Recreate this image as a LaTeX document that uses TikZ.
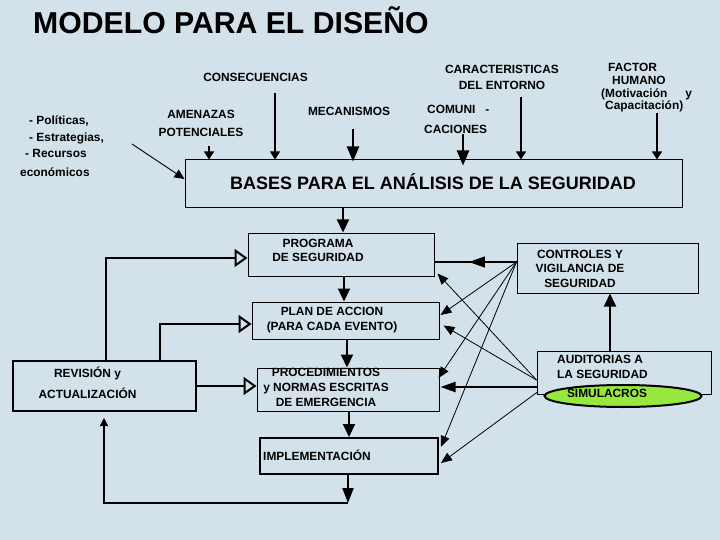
\documentclass[tikz,border=0pt]{standalone}
\usepackage{fontspec}
\setmainfont{Liberation Sans}
\usetikzlibrary{arrows.meta,calc,decorations.markings,shapes.geometric}
\definecolor{bgc}{RGB}{211,226,234}
\definecolor{simg}{RGB}{150,232,60}
\begin{document}
\begin{tikzpicture}[x=1pt,y=-1pt,
  lbl/.style={font=\bfseries\fontsize{11.9}{#1}\selectfont, inner sep=0pt, align=center},
  lbl/.default=14,
  box/.style={draw, line width=1pt, inner sep=0pt},
  thickbox/.style={draw, line width=2pt, inner sep=0pt},
  inarrow/.style={line width=1.1pt, -{Triangle[length=8pt,width=10pt]}},
  bigin/.style={line width=2pt, -{Triangle[length=15pt,width=12pt]}},
  flow/.style={line width=2pt, -{Triangle[length=13pt,width=12pt]}},
  fb/.style={line width=2pt, -{Triangle[open,length=13pt,width=18pt]}},
  link/.style={line width=0.8pt, -{Triangle[length=11pt,width=9pt]}},
  thicklink/.style={line width=2pt, -{Triangle[length=15pt,width=10pt]}},
  loopline/.style={line width=1.3pt, -{Triangle[length=8pt,width=8pt]}}
]
\useasboundingbox (0,0) rectangle (720,540);
\fill[bgc] (0,0) rectangle (720,540);

% boxes
\node[box, minimum width=497pt, minimum height=48pt] (bases) at (433.5,184) {};
\node[box, minimum width=186pt, minimum height=43pt] (prog) at (341,254.5) {};
\node[box, minimum width=187pt, minimum height=37pt] (plan) at (345.5,320.5) {};
\node[box, minimum width=182pt, minimum height=43pt] (proc) at (348,389.5) {};
\node[thickbox, minimum width=178pt, minimum height=36pt] (impl) at (349,456) {};
\node[thickbox, minimum width=183pt, minimum height=50pt] (rev) at (104.5,386) {};
\node[box, minimum width=181pt, minimum height=50pt] (ctrl) at (607.5,268) {};
\node[box, minimum width=174pt, minimum height=43pt] (aud) at (624,372.5) {};
\node[ellipse, draw, line width=2pt, fill=simg, minimum width=157pt, minimum height=22pt, inner sep=0pt] (sim) at (623,396) {};

% texts
\node[anchor=base west, font=\bfseries\fontsize{30.2}{32}\selectfont, inner sep=0pt] (title) at (33,33.3) {MODELO PARA EL DISEÑO};
\node[anchor=base, font=\bfseries\fontsize{18}{20}\selectfont, inner sep=0pt] (basestxt) at (433,190) {BASES PARA EL ANÁLISIS DE LA SEGURIDAD};
\node[lbl, anchor=base] (cons) at (255.5,82) {CONSECUENCIAS};
\node[lbl=17.7] (amen) at (201,123.4) {AMENAZAS\\POTENCIALES};
\node[lbl, anchor=base] (mec) at (349,116) {MECANISMOS};
\node[lbl=20, align=left, anchor=west] (com) at (424,119.2) {\hspace*{3pt}COMUNI\hspace{10pt}-\\CACIONES};
\node[lbl=16] (car) at (502,77.5) {CARACTERISTICAS\\DEL ENTORNO};
\node[lbl=12.6, align=left, anchor=west] (fac) at (601,87.9) {\hspace*{7pt}FACTOR\\\hspace*{11pt}HUMANO\\(Motivación\hspace{18pt}y\\\hspace*{4pt}Capacitación)};
\node[lbl, anchor=base west] (pol1) at (29,125) {- Políticas,};
\node[lbl, anchor=base west] (pol2) at (29,141.7) {- Estrategias,};
\node[lbl, anchor=base west] (pol3) at (25,158) {- Recursos};
\node[lbl, anchor=base west] (pol4) at (20,177) {económicos};

\node[lbl] (progtxt) at (318,250.5) {PROGRAMA\\DE SEGURIDAD};
\node[lbl=15] (plantxt) at (332,319.8) {PLAN DE ACCION\\(PARA CADA EVENTO)};
\node[lbl=15] (proctxt) at (326,387.2) {PROCEDIMIENTOS\\y NORMAS ESCRITAS\\DE EMERGENCIA};
\node[lbl, anchor=base west] (impltxt) at (263,460) {IMPLEMENTACIÓN};
\node[lbl=20.6] (revtxt) at (87.5,382.5) {REVISIÓN y\\ACTUALIZACIÓN};
\node[lbl=14.5] (ctrltxt) at (580,268.8) {CONTROLES Y\\VIGILANCIA DE\\SEGURIDAD};
\node[lbl=14.7, align=left, anchor=west] (audtxt) at (557,366.7) {AUDITORIAS A\\LA SEGURIDAD};
\node[lbl, anchor=base] (simtxt) at (607,397.7) {SIMULACROS};

% input arrows
\coordinate (amenS) at (209,146.5);
\coordinate (consS) at (275,93);
\coordinate (mecS) at (353,129);
\coordinate (comS) at (463,134);
\coordinate (carS) at (521,97);
\coordinate (facS) at (657,113);
\coordinate (polS) at (132,144);
\draw[inarrow] (amenS) -- (amenS |- bases.north);
\draw[inarrow] (consS) -- (consS |- bases.north);
\draw[bigin] (mecS) -- ($(mecS |- bases.north)+(0,2)$);
\draw[bigin] (comS) -- ($(comS |- bases.north)+(0,6)$);
\draw[inarrow] (carS) -- (carS |- bases.north);
\draw[inarrow] (facS) -- (facS |- bases.north);
\draw[line width=0.9pt, -{Triangle[length=10pt,width=9pt]}] (polS) -- ($(bases.west)+(0,-5)$);

% main flow
\coordinate (fx1) at (343,0);
\coordinate (fx2) at (344,0);
\coordinate (fx3) at (347,0);
\coordinate (fx4) at (349,0);
\coordinate (fx5) at (348,0);
\draw[flow] (bases.south -| fx1) -- (prog.north -| fx1);
\draw[flow] (prog.south -| fx2) -- (plan.north -| fx2);
\draw[flow] (plan.south -| fx3) -- (proc.north -| fx3);
\draw[flow] (proc.south -| fx4) -- (impl.north -| fx4);
\coordinate (c1) at (348,503);
\coordinate (c2) at (104,503);
\path (rev.south -| c2) ++(0,6) coordinate (c3);
\draw[line width=2pt, -{Triangle[length=15pt,width=11pt]}] (impl.south -| fx5) -- (c1);
\draw[loopline] (c1) -- (c2) -- (c3);

% feedback from revision
\coordinate (lx1) at (106,0);
\coordinate (lx2) at (160,0);
\draw[fb] (rev.north -| lx1) |- ($(prog.west)+(0,3.5)$);
\draw[fb] (rev.north -| lx2) |- ($(plan.west)+(0,3.5)$);
\draw[fb] (rev.east) -- (rev.east -| proc.west);

% audits to controls
\coordinate (ax) at (610,0);
\draw[flow] (aud.north -| ax) -- (ctrl.south -| ax);

% right links
\path (ctrl.west) ++(0,-6) coordinate (cl);
\path (aud.west) ++(0,7.5) coordinate (al);
\path (aud.west) ++(0,14.5) coordinate (al1);
\path (aud.west) ++(1,19.5) coordinate (al2);
\draw[line width=1.2pt, decoration={markings, mark=at position 0.58 with {\arrow{Triangle[length=16pt,width=11pt]}}}, postaction={decorate}] (cl) -- (cl -| prog.east);
\draw[link] (cl) -- ($(plan.east)+(1,-5.5)$);
\draw[link] (cl) -- ($(proc.east)+(-1,-11.5)$);
\draw[link] (cl) -- ($(impl.east)+(2,-9)$);
\draw[link] (al) -- ($(prog.south east)+(3,-3)$);
\draw[link] (al) -- ($(plan.east)+(4,5)$);
\draw[thicklink] (al1) -- ($(proc.east)+(1,-2.5)$);
\draw[link] (al2) -- ($(impl.east)+(2,7)$);
\end{tikzpicture}
\end{document}
